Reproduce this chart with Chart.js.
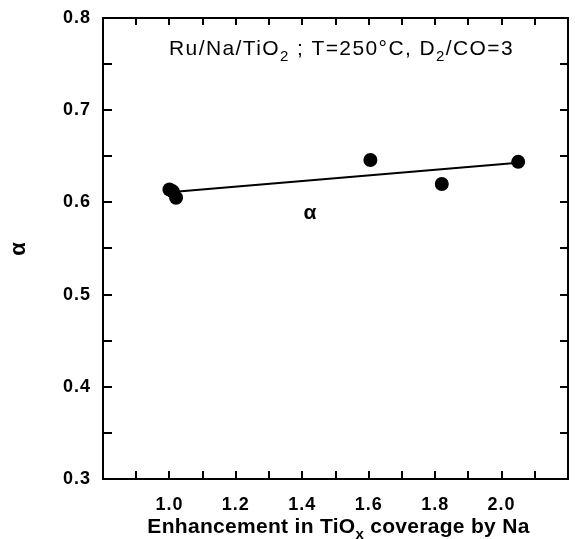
<!DOCTYPE html>
<html>
<head>
<meta charset="utf-8">
<script src="https://cdn.jsdelivr.net/npm/chart.js@4.4.1/dist/chart.umd.min.js"></script>
<style>
    body { margin: 0; background: #fff; }
    #wrap { width: 575px; height: 539px; }
</style>
</head>
<body>
<div id="wrap"><canvas id="alphaChart" width="575" height="539"></canvas></div>
<script>
// Data
const pointX = [1.00, 1.01, 1.02, 1.605, 1.82, 2.05];
const pointY = [0.614, 0.612, 0.605, 0.646, 0.620, 0.644];

// fitted line end points
const fitX = [1.0, 2.05];
const fitY = [0.611, 0.643];

// tick labels and tick marks
const xTickLabels = [1.0, 1.2, 1.4, 1.6, 1.8, 2.0];
const yTickLabels = [0.3, 0.4, 0.5, 0.6, 0.7, 0.8];
const xTickMarks = [0.9, 1.0, 1.1, 1.2, 1.3, 1.4, 1.5, 1.6, 1.7, 1.8, 1.9, 2.0, 2.1];
const yTickMarks = [0.35, 0.4, 0.45, 0.5, 0.55, 0.6, 0.65, 0.7, 0.75];

const FONT = "'Liberation Sans', Arial, sans-serif";

// draw text with subscripts, parts = strings or {sub: '2'}
function drawRich(ctx, parts, x, y, size, weight, align) {
    const subSize = Math.round(size * 0.72);
    const fontFor = s => weight + ' ' + s + 'px ' + FONT;
    let total = 0;
    parts.forEach(p => {
        ctx.font = fontFor(typeof p === 'string' ? size : subSize);
        total += ctx.measureText(typeof p === 'string' ? p : p.sub).width;
    });
    let cx = align === 'center' ? x - total / 2 : x;
    ctx.textAlign = 'left';
    ctx.textBaseline = 'alphabetic';
    parts.forEach(p => {
        const sub = typeof p !== 'string';
        const txt = sub ? p.sub : p;
        ctx.font = fontFor(sub ? subSize : size);
        ctx.fillText(txt, cx, sub ? y + size * 0.28 : y);
        cx += ctx.measureText(txt).width;
    });
}

const framePlugin = {
    id: 'frame',
    beforeDraw(chart) {
        // the scanned figure has widely spaced digits
        chart.ctx.letterSpacing = '1px';
    },
    afterDraw(chart) {
        const ctx = chart.ctx;
        const a = chart.chartArea;
        const xs = chart.scales.x;
        const ys = chart.scales.y;
        ctx.save();
        ctx.strokeStyle = '#000';
        ctx.lineWidth = 2;
        ctx.strokeRect(a.left, a.top, a.right - a.left, a.bottom - a.top);

        // inward ticks
        ctx.beginPath();
        xTickMarks.forEach(v => {
            const px = Math.round(xs.getPixelForValue(v));
            ctx.moveTo(px, a.bottom); ctx.lineTo(px, a.bottom - 8);
            ctx.moveTo(px, a.top); ctx.lineTo(px, a.top + 7);
        });
        yTickMarks.forEach(v => {
            const py = Math.round(ys.getPixelForValue(v));
            ctx.moveTo(a.left, py); ctx.lineTo(a.left + 9, py);
            ctx.moveTo(a.right, py); ctx.lineTo(a.right - 8, py);
        });
        ctx.stroke();

        ctx.fillStyle = '#000';
        // title inside the plot
        ctx.letterSpacing = '1.4px';
        drawRich(ctx, ['Ru/Na/TiO', {sub: '2'}, ' ; T=250\u00B0C, D', {sub: '2'}, '/CO=3'],
            (a.left + a.right) / 2 + 6, a.top + 37, 21, 'normal', 'center');

        // series label
        ctx.letterSpacing = '0px';
        ctx.font = 'bold 21px ' + FONT;
        ctx.textAlign = 'center';
        ctx.textBaseline = 'middle';
        ctx.fillText('\u03B1', xs.getPixelForValue(1.423), ys.getPixelForValue(0.588));

        // x axis title
        ctx.letterSpacing = '0.3px';
        drawRich(ctx, ['Enhancement in TiO', {sub: 'x'}, ' coverage by Na'],
            (a.left + a.right) / 2 + 3, chart.height - 6, 21, 'bold', 'center');
        ctx.restore();
    }
};

const ctx = document.getElementById('alphaChart');
new Chart(ctx, {
    type: 'scatter',
    data: {
        datasets: [
            {
                label: 'alpha',
                data: pointX.map((x, i) => ({x: x, y: pointY[i]})),
                backgroundColor: '#000',
                borderWidth: 0,
                pointRadius: 7,
                pointHoverRadius: 7
            },
            {
                type: 'line',
                label: 'fit',
                data: fitX.map((x, i) => ({x: x, y: fitY[i]})),
                borderColor: '#000',
                borderWidth: 2,
                pointRadius: 0,
                fill: false
            }
        ]
    },
    options: {
        responsive: false,
        animation: false,
        devicePixelRatio: 1,
        layout: { padding: { top: 18, right: 2, left: 0, bottom: 0 } },
        plugins: {
            legend: { display: false },
            tooltip: { enabled: false }
        },
        scales: {
            x: {
                type: 'linear',
                min: 0.8,
                max: 2.2,
                grid: { display: false },
                border: { display: false },
                afterBuildTicks: s => { s.ticks = xTickLabels.map(v => ({value: v})); },
                afterFit: s => { s.height = 60; s.paddingLeft = 0; s.paddingRight = 0; },
                ticks: {
                    color: '#000',
                    padding: 7,
                    maxRotation: 0,
                    font: { family: FONT, size: 18, weight: 'bold' },
                    callback: v => v.toFixed(1)
                }
            },
            y: {
                type: 'linear',
                min: 0.3,
                max: 0.8,
                grid: { display: false },
                border: { display: false },
                afterBuildTicks: s => { s.ticks = yTickLabels.map(v => ({value: v})); },
                afterFit: s => { s.width = 103; s.paddingTop = 0; s.paddingBottom = 0; },
                ticks: {
                    color: '#000',
                    padding: 4,
                    font: { family: FONT, size: 18, weight: 'bold' },
                    callback: v => v.toFixed(1)
                },
                title: {
                    display: true,
                    text: '\u03B1',
                    color: '#000',
                    font: { family: FONT, size: 22, weight: 'bold' },
                    padding: { top: 6, bottom: 0 }
                }
            }
        }
    },
    plugins: [framePlugin]
});
</script>
</body>
</html>
